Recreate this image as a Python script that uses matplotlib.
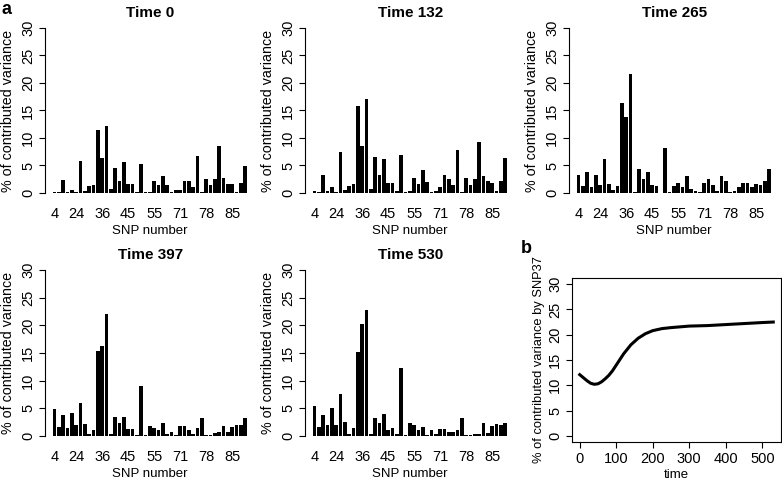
import numpy as np
import matplotlib.pyplot as plt

plt.rcParams['font.family'] = ['Liberation Sans', 'DejaVu Sans']

# bar heights (% of contributed variance) per SNP, 45 SNPs
time_labels = ['Time 0', 'Time 132', 'Time 265', 'Time 397', 'Time 530']
t0 = [0.2, 0.2, 2.3, 0.2, 0.6, 0.2, 5.9, 0.3, 1.2, 1.4, 11.5, 6.4, 12.2, 0.8, 4.6,
      2.2, 5.6, 1.6, 1.6, 0.1, 5.2, 0.1, 0.1, 2.1, 1.4, 3.1, 1.4, 0.1, 0.6, 0.6,
      2.2, 2.1, 1.1, 6.8, 0.1, 2.5, 1.5, 2.5, 8.5, 2.7, 1.6, 1.6, 0.1, 1.8, 4.9]
t132 = [0.3, 0.1, 3.3, 0.4, 1.0, 0.2, 7.5, 0.5, 1.2, 1.6, 15.9, 8.6, 17.1, 0.7, 6.6,
        3.3, 6.2, 1.9, 1.9, 0.3, 6.9, 0.1, 0.3, 2.8, 1.6, 4.2, 2.0, 0.1, 0.4, 1.1,
        3.3, 2.5, 1.4, 7.8, 0.1, 2.8, 1.5, 2.6, 9.2, 3.0, 2.1, 1.9, 0.3, 2.2, 6.3]
t265 = [3.3, 1.3, 3.8, 1.1, 3.2, 1.4, 6.2, 1.7, 0.6, 1.3, 16.3, 13.8, 21.6, 0.1, 4.3,
        2.6, 3.9, 1.4, 1.3, 0.05, 8.1, 0.1, 1.3, 1.8, 1.0, 3.0, 0.7, 0.4, 0.2, 1.9,
        2.5, 1.4, 0.4, 3.0, 2.2, 0.1, 0.4, 1.0, 1.8, 1.9, 1.1, 1.7, 1.5, 2.1, 4.4]
t397 = [4.9, 1.6, 3.8, 1.5, 4.2, 1.9, 6.0, 2.2, 0.4, 1.1, 15.3, 16.2, 22.0, 0.3, 3.4,
        2.3, 3.4, 1.3, 1.3, 0.2, 9.1, 0.1, 1.8, 1.5, 1.0, 2.3, 0.3, 0.7, 0.2, 1.8,
        1.8, 1.0, 0.4, 1.5, 3.2, 0.1, 0.1, 0.5, 0.7, 1.8, 0.7, 1.6, 2.0, 1.9, 3.2]
t530 = [5.4, 1.6, 3.8, 1.9, 5.1, 1.9, 7.5, 2.6, 0.4, 1.4, 15.1, 20.2, 22.7, 0.4, 3.3,
        2.3, 4.0, 1.1, 1.4, 0.4, 12.2, 0.1, 2.4, 1.9, 1.1, 1.6, 0.1, 1.0, 0.3, 1.2,
        1.2, 0.8, 0.7, 1.0, 3.3, 0.1, 0.1, 0.4, 0.4, 2.3, 0.5, 1.8, 2.1, 2.0, 2.4]
series = [t0, t132, t265, t397, t530]

# SNP names shown under the bars (the others are skipped as in the original)
tick_idx = [0, 5, 11, 17, 23, 29, 35, 41]
tick_labels = ['4', '24', '36', '45', '55', '71', '78', '85']

# SNP37 contribution over time
time = [0, 10, 20, 30, 40, 50, 60, 70, 80, 90, 100, 120, 140, 160, 180, 200, 225,
        250, 300, 350, 400, 450, 500, 530]
snp37 = [12.1, 11.5, 10.9, 10.4, 10.2, 10.3, 10.7, 11.3, 12.0, 12.9, 14.0, 16.2,
         18.0, 19.3, 20.2, 20.8, 21.2, 21.4, 21.7, 21.8, 22.0, 22.2, 22.4, 22.5]

W, H = 782, 483
fig = plt.figure(figsize=(W / 100, H / 100), dpi=100)


def px_axes(left, top, right, bottom):
    return fig.add_axes([left / W, 1 - bottom / H, (right - left) / W, (bottom - top) / H])


tick_fs = 10.5
lab_fs = 9.5
ylab_fs = 10.3
boxes = [(45, 21.4, 255.5, 199.6), (305, 21.4, 515.5, 199.6), (569, 21.4, 779.5, 199.6),
         (45, 263.4, 255.5, 442.6), (305, 263.4, 515.5, 442.6)]

for (l, t, r, b), title, vals in zip(boxes, time_labels, series):
    ax = px_axes(l, t, r, b)
    n = len(vals)
    x = 0.7 + 1.2 * np.arange(n)
    ax.bar(x, vals, width=1.0, color='black', linewidth=0)
    span = 1.2 * n
    ax.set_xlim(0.2 - 0.04 * span, 0.2 + span + 0.04 * span)
    ax.set_ylim(-1.2, 31.2)
    for s in ['top', 'right', 'bottom']:
        ax.spines[s].set_visible(False)
    ax.spines['left'].set_bounds(0, 30)
    ax.spines['left'].set_linewidth(0.8)
    ax.set_yticks(range(0, 31, 5))
    ax.set_yticklabels([str(v) for v in range(0, 31, 5)], rotation=90, va='center')
    ax.tick_params(axis='y', length=4, width=0.8, pad=3, labelsize=tick_fs)
    ax.set_xticks(x[tick_idx])
    ax.set_xticklabels(tick_labels)
    ax.tick_params(axis='x', length=0, pad=5, labelsize=tick_fs)
    ax.set_xlabel('SNP number', fontsize=lab_fs, labelpad=3)
    ax.set_ylabel('% of contributed variance', fontsize=ylab_fs)
    ax.yaxis.set_label_coords(-30 / (r - l), 0.5)
    ax.set_title(title, fontsize=11, fontweight='bold', pad=3)

# panel b
ax = px_axes(572, 278, 781, 442)
ax.plot(time, snp37, color='black', linewidth=2.2)
ax.set_xlim(-21.2, 551.2)
ax.set_ylim(-1.2, 31.2)
ax.set_xticks(range(0, 501, 100))
ax.set_yticks(range(0, 31, 5))
ax.set_yticklabels([str(v) for v in range(0, 31, 5)], rotation=90, va='center')
ax.tick_params(length=4, width=0.8, pad=3, labelsize=tick_fs)
for s in ax.spines.values():
    s.set_linewidth(0.8)
ax.set_xlabel('time', fontsize=lab_fs, labelpad=2)
ax.set_ylabel('% of contributed variance by SNP37', fontsize=9.3)
ax.yaxis.set_label_coords(-27 / 209, 0.5)

fig.text(2 / W, 1 - 9 / H, 'a', fontsize=13, fontweight='bold', va='center', ha='left')
fig.text(521 / W, 1 - 248 / H, 'b', fontsize=13, fontweight='bold', va='center', ha='left')

fig.savefig('out.png', dpi=100)
